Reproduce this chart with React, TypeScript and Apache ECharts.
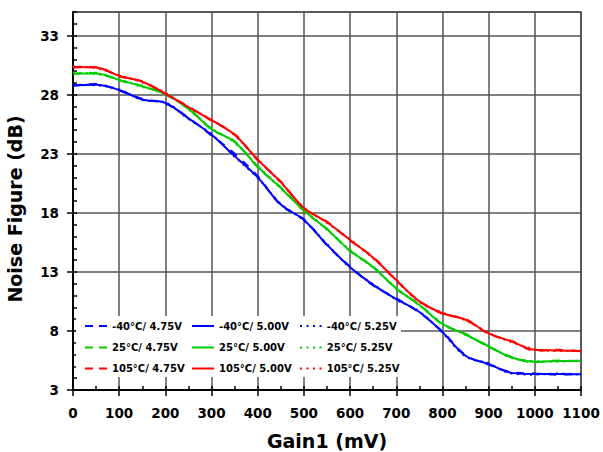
import React, { useEffect, useRef } from "react";
import * as echarts from "echarts";

// Gain1 sweep (mV)
const gain = [0, 50, 100, 150, 200, 250, 300, 350, 400, 450, 500, 550, 600, 650, 700, 750, 800, 850, 900, 950, 1000, 1050, 1100];

// Noise figure (dB) at -40°C
const nfCold475 = [28.75, 28.9, 28.35, 27.65, 27.25, 26.05, 24.55, 23.0, 21.1, 18.65, 17.45, 15.25, 13.45, 11.85, 10.75, 9.55, 7.95, 5.95, 5.15, 4.5, 4.4, 4.3, 4.35];
const nfCold500 = [28.8, 28.85, 28.4, 27.6, 27.3, 26.0, 24.6, 22.8, 21.0, 18.7, 17.4, 15.3, 13.4, 11.9, 10.7, 9.6, 7.9, 5.9, 5.2, 4.45, 4.35, 4.35, 4.33];
const nfCold525 = [28.85, 28.8, 28.45, 27.55, 27.35, 25.95, 24.65, 22.75, 20.95, 18.75, 17.35, 15.35, 13.35, 11.95, 10.65, 9.65, 7.85, 5.85, 5.25, 4.4, 4.3, 4.4, 4.3];

// Noise figure (dB) at 25°C
const nfRoom475 = [29.75, 29.85, 29.2, 28.75, 28.0, 26.85, 25.05, 24.05, 21.85, 20.15, 18.15, 16.65, 14.75, 13.45, 11.55, 10.25, 8.55, 7.75, 6.65, 5.8, 5.35, 5.5, 5.45];
const nfRoom500 = [29.8, 29.8, 29.25, 28.7, 28.05, 26.8, 25.1, 24.0, 21.9, 20.1, 18.2, 16.6, 14.8, 13.4, 11.6, 10.2, 8.6, 7.7, 6.7, 5.75, 5.4, 5.45, 5.48];
const nfRoom525 = [29.85, 29.75, 29.3, 28.65, 28.1, 26.75, 25.15, 23.95, 21.95, 20.05, 18.25, 16.55, 14.85, 13.35, 11.65, 10.15, 8.65, 7.65, 6.75, 5.7, 5.45, 5.4, 5.5];

// Noise figure (dB) at 105°C
const nfHot475 = [30.3, 30.35, 29.55, 29.15, 28.05, 27.0, 25.8, 24.65, 22.45, 20.65, 18.35, 17.25, 15.65, 14.25, 12.25, 10.55, 9.45, 9.0, 7.75, 7.15, 6.35, 6.4, 6.25];
const nfHot500 = [30.35, 30.3, 29.6, 29.1, 28.1, 26.95, 25.85, 24.6, 22.5, 20.6, 18.4, 17.2, 15.7, 14.2, 12.3, 10.5, 9.5, 8.95, 7.8, 7.1, 6.4, 6.35, 6.3];
const nfHot525 = [30.4, 30.25, 29.65, 29.05, 28.15, 26.9, 25.9, 24.55, 22.55, 20.55, 18.45, 17.15, 15.75, 14.15, 12.35, 10.45, 9.55, 8.9, 7.85, 7.05, 6.45, 6.3, 6.35];

const temps = ["-40°C", "25°C", "105°C"];
const supplies = ["4.75V", "5.00V", "5.25V"];
const tempColors = ["#0000ff", "#00cc00", "#ff0000"];
const supplyDash: any[] = [[8, 8], "solid", [2, 4.5]];

// legend swatches: dashed, solid and dotted strokes
const supplyIcons = [
  "path://M0,0h8v2h-8zM14,0h8v2h-8z",
  "path://M0,0h22v2h-22z",
  "path://M0,0h2v2h-2zM6.5,0h2v2h-2zM13,0h2v2h-2zM19.5,0h2v2h-2z",
];

const curves = [
  [nfCold475, nfCold500, nfCold525],
  [nfRoom475, nfRoom500, nfRoom525],
  [nfHot475, nfHot500, nfHot525],
];

const FONT = "DejaVu Sans";

export default function App() {
  const ref = useRef<HTMLDivElement>(null);

  useEffect(() => {
    if (!ref.current) return;
    const chart = echarts.init(ref.current, undefined, { renderer: "svg" });

    const nameOf = (t: number, v: number) => `${temps[t]}/ ${supplies[v]}`;

    const series: any[] = [];
    // dashed and dotted supplies first, the 5.00V trace on top
    [0, 2, 1].forEach((v) => {
      temps.forEach((_, t) => {
        series.push({
          name: nameOf(t, v),
          type: "line",
          data: gain.map((g, i) => [g, curves[t][v][i]]),
          symbol: "none",
          smooth: 0.35,
          lineStyle: { color: tempColors[t], width: 2, type: supplyDash[v] },
          itemStyle: { color: tempColors[t] },
          z: v === 1 ? 3 : 2,
        });
      });
    });

    const colLeft = [85, 192, 300];
    const rowCenter = [327, 348.5, 369.5];
    const legends: any[] = [];
    supplies.forEach((_, v) => {
      temps.forEach((_, t) => {
        legends.push({
          data: [{ name: nameOf(t, v), icon: supplyIcons[v] }],
          left: colLeft[v],
          top: rowCenter[t] - 6,
          padding: 0,
          itemWidth: 22,
          itemHeight: 2,
          selectedMode: false,
          itemStyle: { color: tempColors[t] },
          textStyle: { fontFamily: FONT, fontWeight: "bold", fontSize: 10, color: "#000" },
          z: 6,
        });
      });
    });

    const tickLine = { color: "#000", width: 1.5 };

    chart.setOption({
      animation: false,
      backgroundColor: "#fff",
      grid: {
        left: 73,
        right: 22,
        top: 12,
        bottom: 62,
        show: true,
        borderColor: "#333",
        borderWidth: 1.5,
      },
      xAxis: [
        {
          type: "value",
          min: 0,
          max: 1100,
          interval: 100,
          axisLine: { show: true, lineStyle: { color: "#000", width: 2 } },
          axisTick: { show: true, length: 6, lineStyle: tickLine },
          splitLine: { show: true, lineStyle: { color: "#555", width: 1.5 } },
          axisLabel: {
            margin: 16,
            fontFamily: FONT,
            fontWeight: "bold",
            fontSize: 13.5,
            color: "#000",
            formatter: (v: number) => String(v),
          },
        },
        {
          // inner 50 mV ticks
          type: "value",
          position: "bottom",
          min: 0,
          max: 1100,
          interval: 50,
          axisLine: { show: false },
          axisTick: { show: true, inside: true, length: 4, lineStyle: tickLine },
          splitLine: { show: false },
          axisLabel: { show: false },
        },
      ],
      yAxis: [
        {
          type: "value",
          min: 3,
          max: 35,
          interval: 5,
          axisLine: { show: true, lineStyle: { color: "#000", width: 2 } },
          axisTick: { show: true, length: 6, lineStyle: tickLine },
          splitLine: { show: true, lineStyle: { color: "#555", width: 1.5 } },
          axisLabel: {
            margin: 14,
            showMaxLabel: false,
            fontFamily: FONT,
            fontWeight: "bold",
            fontSize: 13.5,
            color: "#000",
          },
        },
        {
          // inner 1 dB ticks
          type: "value",
          position: "left",
          min: 3,
          max: 35,
          interval: 1,
          axisLine: { show: false },
          axisTick: { show: true, inside: true, length: 4, lineStyle: tickLine },
          splitLine: { show: false },
          axisLabel: { show: false },
        },
      ],
      legend: legends,
      graphic: [
        {
          type: "rect",
          z: 5,
          shape: { x: 76, y: 316, width: 325, height: 61 },
          style: { fill: "#fff" },
        },
        {
          type: "text",
          x: 327,
          y: 441,
          style: {
            text: "Gain1 (mV)",
            font: `bold 19px "${FONT}"`,
            fill: "#000",
            align: "center",
            verticalAlign: "middle",
          },
        },
        {
          type: "text",
          x: 15,
          y: 209,
          rotation: Math.PI / 2,
          style: {
            text: "Noise Figure (dB)",
            font: `bold 19px "${FONT}"`,
            fill: "#000",
            align: "center",
            verticalAlign: "middle",
          },
        },
      ],
      series,
    });

    return () => chart.dispose();
  }, []);

  return (
    <div
      ref={ref}
      style={{ position: "fixed", left: 0, top: 0, width: 603, height: 452, background: "#fff" }}
    />
  );
}
